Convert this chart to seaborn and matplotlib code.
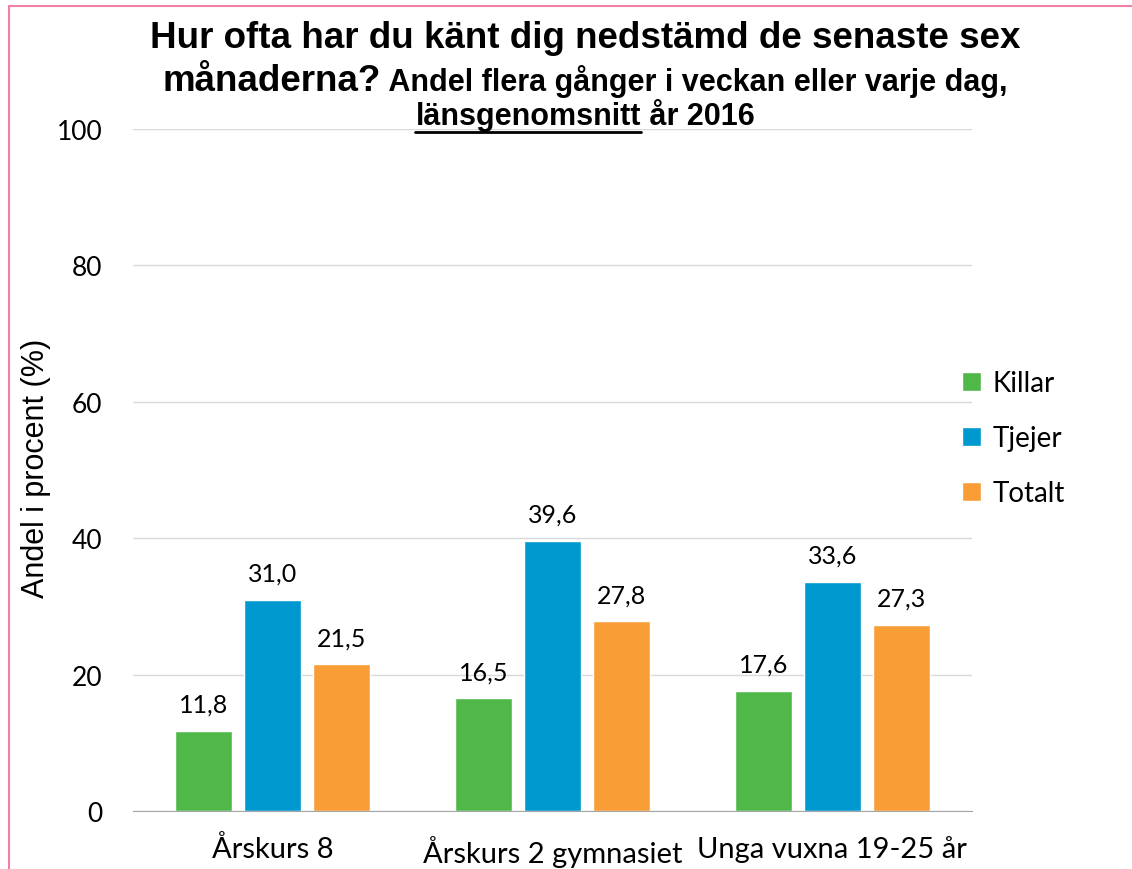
import matplotlib
matplotlib.use("Agg")
import matplotlib.pyplot as plt
from matplotlib.lines import Line2D
import seaborn as sns
import pandas as pd

# data
groups = ["Årskurs 8", "Årskurs 2 gymnasiet", "Unga vuxna 19-25 år"]
killar = [11.8, 16.5, 17.6]
tjejer = [31.0, 39.6, 33.6]
totalt = [21.5, 27.8, 27.3]
series = ["Killar", "Tjejer", "Totalt"]
colors = ["#50B848", "#0099CF", "#F99D37"]

df = pd.DataFrame({
    "grupp": groups * 3,
    "serie": [s for s in series for _ in groups],
    "andel": killar + tjejer + totalt,
})

sns.set_style("white")
plt.rcParams["font.family"] = ["Lato", "DejaVu Sans"]
plt.rcParams.update({"text.color": "black", "axes.labelcolor": "black",
                     "xtick.labelcolor": "black", "ytick.labelcolor": "black"})

fig = plt.figure(figsize=(11.32, 8.7), dpi=100)
ax = fig.add_axes([133 / 1132, 1 - 812 / 870, (972 - 133) / 1132, (812 - 130) / 870])

sns.barplot(data=df, x="grupp", y="andel", hue="serie", palette=colors,
            width=0.74, gap=0.17, ax=ax, saturation=1)

for cont in ax.containers:
    ax.bar_label(cont, labels=[f"{v:.1f}".replace(".", ",") for v in cont.datavalues],
                 padding=11, fontsize=18, color="black")

ax.set_ylim(0, 100)
ax.set_yticks(range(0, 101, 20))
ax.set_xlim(-0.5, 2.5)
ax.set_xticks([-0.5, 0.5, 1.5, 2.5], minor=True)
ax.tick_params(axis="y", length=0, pad=22, labelsize=19)
ax.tick_params(axis="x", which="major", length=0, pad=17, labelsize=21)
ax.tick_params(axis="x", which="minor", length=8, width=1, color="#A6A6A6", direction="out")
ax.grid(axis="y", color="#D9D9D9", lw=1)
ax.set_axisbelow(True)
for side in ["left", "right", "top"]:
    ax.spines[side].set_visible(False)
ax.spines["bottom"].set_color("#A6A6A6")
ax.set_xlabel("")
ax.set_ylabel("Andel i procent (%)", fontsize=22, family="Liberation Sans", labelpad=0)
ax.yaxis.set_label_coords(51 / 1132, 1 - 468 / 870, transform=fig.transFigure)

ax.legend(loc="upper left", bbox_to_anchor=(937 / 1132, 1 - 346 / 870),
          bbox_transform=fig.transFigure, frameon=False, fontsize=20,
          handlelength=0.7, handleheight=0.7, handletextpad=0.4, labelspacing=1.05)

# title in three lines with mixed sizes
big = dict(family="Liberation Sans", weight="bold", fontsize=26.5, color="black")
small = dict(family="Liberation Sans", weight="bold", fontsize=22, color="black")
cx = 585 / 1132
r = fig.canvas.get_renderer()

fig.text(cx, 1 - 48 / 870, "Hur ofta har du känt dig nedstämd de senaste sex",
         ha="center", va="baseline", **big)

t1 = fig.text(0, 1 - 91 / 870, "månaderna?", ha="left", va="baseline", **big)
t2 = fig.text(0, 1 - 91 / 870, " Andel flera gånger i veckan eller varje dag,",
              ha="left", va="baseline", **small)
w1 = t1.get_window_extent(r).width / 1132
w2 = t2.get_window_extent(r).width / 1132
x0 = cx - (w1 + w2) / 2
t1.set_x(x0)
t2.set_x(x0 + w1)

t3 = fig.text(0, 1 - 125 / 870, "länsgenomsnitt", ha="left", va="baseline", **small)
t4 = fig.text(0, 1 - 125 / 870, " år 2016", ha="left", va="baseline", **small)
w3 = t3.get_window_extent(r).width / 1132
w4 = t4.get_window_extent(r).width / 1132
x3 = cx - (w3 + w4) / 2
t3.set_x(x3)
t4.set_x(x3 + w3)
uy = 1 - 133 / 870
fig.add_artist(Line2D([x3, x3 + w3], [uy, uy], color="black", lw=2,
                      transform=fig.transFigure))

# pink frame along top and left edge
fig.add_artist(Line2D([9 / 1132, 1], [1 - 7 / 870, 1 - 7 / 870], color="#F080A8", lw=1.5,
                      transform=fig.transFigure))
fig.add_artist(Line2D([9 / 1132, 9 / 1132], [0, 1 - 7 / 870], color="#F080A8", lw=1.5,
                      transform=fig.transFigure))

fig.savefig("out.png", dpi=100)
